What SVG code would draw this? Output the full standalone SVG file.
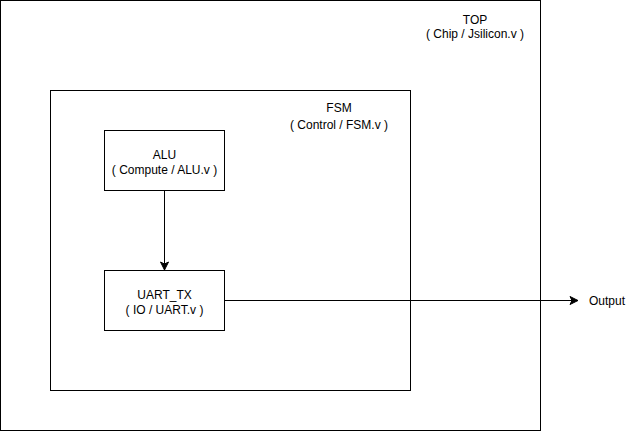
<svg xmlns="http://www.w3.org/2000/svg" width="638" height="431" viewBox="0 0 638 431">
<style>
.box{fill:#ffffff;stroke:#000000;stroke-width:1}
.t{font-family:"Liberation Sans",Arial,sans-serif;font-size:12px;fill:#000000;text-anchor:middle}
.tl{font-family:"Liberation Sans",Arial,sans-serif;font-size:12px;fill:#000000;text-anchor:start}
.edge{fill:none;stroke:#000000;stroke-width:1}
</style>
<defs>
<marker id="arr" viewBox="0 0 10 10" refX="9" refY="5" markerWidth="10" markerHeight="10" markerUnits="userSpaceOnUse" orient="auto">
<path d="M1,1 L9,5 L1,9 L3,5 Z" fill="#000000" stroke="#000000" stroke-width="1"/>
</marker>
</defs>
<rect width="638" height="431" fill="#ffffff"/>
<g id="top">
<rect class="box" x="0.5" y="0.5" width="540" height="430"/>
<text class="t" x="475" y="23.5">TOP</text>
<text class="t" x="475" y="38">( Chip / Jsilicon.v )</text>
</g>
<g id="fsm">
<rect class="box" x="50.5" y="90.5" width="360" height="300"/>
<text class="t" x="339" y="111.5">FSM</text>
<text class="t" x="339" y="129">( Control / FSM.v )</text>
</g>
<g id="alu">
<rect class="box" x="104.5" y="130.5" width="120" height="60"/>
<text class="t" x="164.5" y="159">ALU</text>
<text class="t" x="164.5" y="174">( Compute / ALU.v )</text>
</g>
<g id="uart_tx">
<rect class="box" x="104.5" y="270.5" width="120" height="60"/>
<text class="t" x="164.5" y="299">UART_TX</text>
<text class="t" x="164.5" y="314">( IO / UART.v )</text>
</g>
<g id="output">
<text class="tl" x="589" y="305">Output</text>
</g>
<g id="connectors">
<path class="edge" d="M164.5,190.5 L164.5,270" marker-end="url(#arr)"/>
<path class="edge" d="M224.5,300.5 L578,300.5" marker-end="url(#arr)"/>
</g>
</svg>
